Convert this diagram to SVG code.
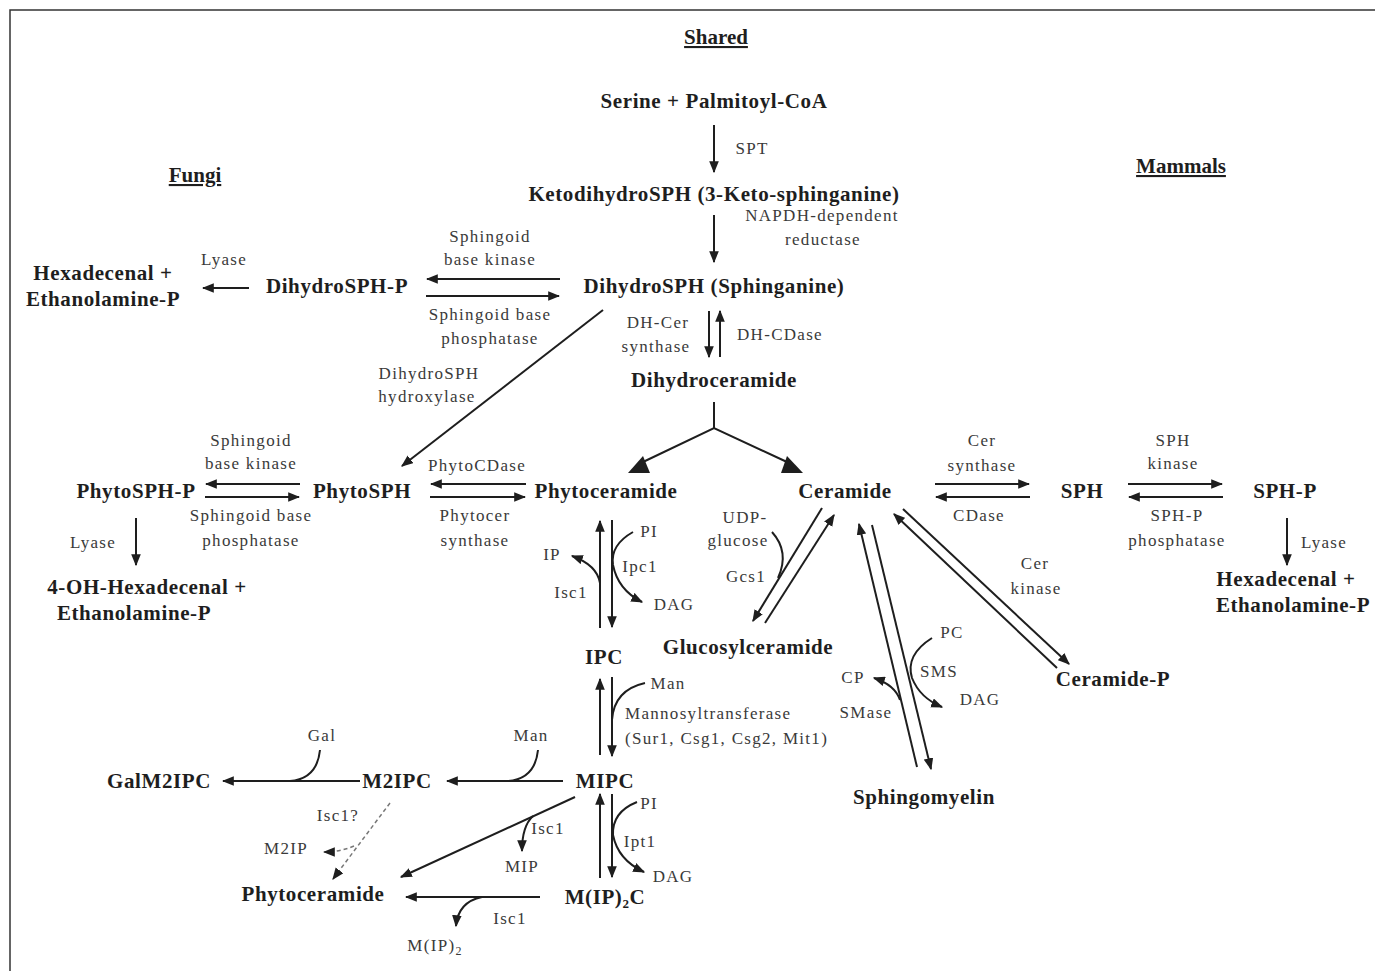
<svg xmlns="http://www.w3.org/2000/svg" width="1375" height="971" viewBox="0 0 1375 971">
<defs>
<style>
.n{font-family:"Liberation Serif","Times New Roman",serif;font-weight:bold;font-size:21px;letter-spacing:0.6px;fill:#1e1e1e;text-anchor:middle}
.l{font-family:"Liberation Serif","Times New Roman",serif;font-size:17px;letter-spacing:1.3px;fill:#3a3a3a;text-anchor:middle}
.h{font-family:"Liberation Serif","Times New Roman",serif;font-weight:bold;font-size:21px;fill:#1e1e1e;text-anchor:middle;text-decoration:underline}
.c{fill:none;stroke:#1e1e1e;stroke-width:2}
.a{marker-end:url(#ah)}
.d{fill:none;stroke:#777;stroke-width:1.5;stroke-dasharray:4 3}
</style>
<marker id="ah" viewBox="0 0 10 8" refX="9" refY="4" markerWidth="12" markerHeight="10" orient="auto" markerUnits="userSpaceOnUse"><path d="M0,0 L10,4 L0,8 z" fill="#1e1e1e"/></marker>
<marker id="ahg" viewBox="0 0 10 8" refX="9" refY="4" markerWidth="12" markerHeight="10" orient="auto" markerUnits="userSpaceOnUse"><path d="M0,0 L10,4 L0,8 z" fill="#1e1e1e"/></marker>
</defs>
<rect width="1375" height="971" fill="#fff"/>
<path d="M10,971 L10,10 L1375,10" fill="none" stroke="#333" stroke-width="1.5"/>

<g id="headers">
<text class="h" x="716" y="44">Shared</text>
<text class="h" x="195" y="182">Fungi</text>
<text class="h" x="1181" y="173">Mammals</text>
</g>

<g id="connectors">
<line class="c a" x1="714" y1="125" x2="714" y2="172"/>
<line class="c a" x1="714" y1="215" x2="714" y2="262"/>
<line class="c a" x1="560" y1="279" x2="427" y2="279"/>
<line class="c a" x1="426" y1="296" x2="559" y2="296"/>
<line class="c a" x1="249" y1="288" x2="203" y2="288"/>
<line class="c a" x1="603" y1="310" x2="402" y2="466"/>
<line class="c a" x1="709" y1="311" x2="709" y2="357"/>
<line class="c a" x1="720" y1="357" x2="720" y2="311"/>
<polyline class="c" points="643,462 714,428 787,462"/>
<line class="c" x1="714" y1="402" x2="714" y2="428"/>
<polygon points="628,473 650,473 643,456" fill="#1e1e1e"/>
<polygon points="781,473 803,473 787,456" fill="#1e1e1e"/>
<line class="c a" x1="300" y1="484" x2="206" y2="484"/>
<line class="c a" x1="205" y1="497" x2="299" y2="497"/>
<line class="c a" x1="136" y1="518" x2="136" y2="565"/>
<line class="c a" x1="526" y1="484" x2="431" y2="484"/>
<line class="c a" x1="430" y1="497" x2="525" y2="497"/>
<line class="c a" x1="935" y1="484" x2="1029" y2="484"/>
<line class="c a" x1="1030" y1="497" x2="936" y2="497"/>
<line class="c a" x1="1128" y1="484" x2="1222" y2="484"/>
<line class="c a" x1="1223" y1="497" x2="1129" y2="497"/>
<line class="c a" x1="1287" y1="518" x2="1287" y2="565"/>
<line class="c a" x1="600" y1="628" x2="600" y2="521"/>
<line class="c a" x1="612" y1="520" x2="612" y2="627"/>
<path class="c a" d="M633,532 Q610,545 613,565 Q618,590 642,602"/>
<path class="c a" d="M600,583 Q597,565 572,556"/>
<line class="c a" x1="822" y1="508" x2="753" y2="621"/>
<line class="c a" x1="765" y1="623" x2="834" y2="515"/>
<path class="c" d="M772,532 Q790,552 778,578"/>
<line class="c a" x1="917" y1="767" x2="859" y2="524"/>
<line class="c a" x1="872" y1="525" x2="931" y2="769"/>
<path class="c a" d="M932,638 Q905,655 912,678 Q920,698 942,707"/>
<path class="c a" d="M900,700 Q895,685 874,678"/>
<line class="c a" x1="1057" y1="668" x2="894" y2="514"/>
<line class="c a" x1="903" y1="509" x2="1069" y2="664"/>
<line class="c a" x1="600" y1="755" x2="600" y2="679"/>
<line class="c a" x1="612" y1="677" x2="612" y2="756"/>
<path class="c" d="M645,683 Q614,690 612,720"/>
<line class="c a" x1="563" y1="781" x2="447" y2="781"/>
<path class="c" d="M538,750 Q535,779 508,781"/>
<line class="c a" x1="360" y1="781" x2="223" y2="781"/>
<path class="c" d="M320,750 Q317,779 290,781"/>
<path class="d" d="M390,803 L333,879" marker-end="url(#ahg)"/>
<path class="d" d="M354,846 Q340,852 324,852" marker-end="url(#ahg)"/>
<line class="c a" x1="575" y1="797" x2="401" y2="877"/>
<path class="c a" d="M533,816 Q522,826 522,851"/>
<line class="c a" x1="600" y1="878" x2="600" y2="794"/>
<line class="c a" x1="612" y1="794" x2="612" y2="877"/>
<path class="c a" d="M637,802 Q612,812 613,835 Q618,860 644,872"/>
<line class="c a" x1="540" y1="897" x2="406" y2="897"/>
<path class="c a" d="M482,897 Q458,902 456,926"/>
</g>

<g id="n-serine"><text class="n" x="714" y="108">Serine + Palmitoyl-CoA</text></g>
<g id="l-spt"><text class="l" x="752" y="154">SPT</text></g>
<g id="n-keto"><text class="n" x="714" y="201">KetodihydroSPH (3-Keto-sphinganine)</text></g>
<g id="l-napdh"><text class="l" x="822" y="221">NAPDH-dependent</text><text class="l" x="823" y="245">reductase</text></g>
<g id="n-dihydrosph"><text class="n" x="714" y="293">DihydroSPH (Sphinganine)</text></g>
<g id="n-dihydrosphp"><text class="n" x="337" y="293">DihydroSPH-P</text></g>
<g id="n-hexa1"><text class="n" x="103" y="280">Hexadecenal +</text><text class="n" x="103" y="306">Ethanolamine-P</text></g>
<g id="l-lyase1"><text class="l" x="224" y="265">Lyase</text></g>
<g id="l-sbk1"><text class="l" x="490" y="242">Sphingoid</text><text class="l" x="490" y="265">base kinase</text></g>
<g id="l-sbp1"><text class="l" x="490" y="320">Sphingoid base</text><text class="l" x="490" y="344">phosphatase</text></g>
<g id="l-hydrox"><text class="l" x="429" y="379">DihydroSPH</text><text class="l" x="427" y="402">hydroxylase</text></g>
<g id="l-dhcer"><text class="l" x="658" y="328">DH-Cer</text><text class="l" x="656" y="352">synthase</text></g>
<g id="l-dhcdase"><text class="l" x="780" y="340">DH-CDase</text></g>
<g id="n-dihydrocer"><text class="n" x="714" y="387">Dihydroceramide</text></g>

<g id="n-phytosphp"><text class="n" x="136" y="498">PhytoSPH-P</text></g>
<g id="n-phytosph"><text class="n" x="362" y="498">PhytoSPH</text></g>
<g id="n-phytocer"><text class="n" x="606" y="498">Phytoceramide</text></g>
<g id="n-ceramide"><text class="n" x="845" y="498">Ceramide</text></g>
<g id="n-sph"><text class="n" x="1082" y="498">SPH</text></g>
<g id="n-sphp"><text class="n" x="1285" y="498">SPH-P</text></g>
<g id="l-sbk2"><text class="l" x="251" y="446">Sphingoid</text><text class="l" x="251" y="469">base kinase</text></g>
<g id="l-sbp2"><text class="l" x="251" y="521">Sphingoid base</text><text class="l" x="251" y="546">phosphatase</text></g>
<g id="l-lyase2"><text class="l" x="93" y="548">Lyase</text></g>
<g id="n-oh"><text class="n" x="147" y="594">4-OH-Hexadecenal +</text><text class="n" x="134" y="620">Ethanolamine-P</text></g>
<g id="l-phytocdase"><text class="l" x="477" y="471">PhytoCDase</text></g>
<g id="l-phytocer"><text class="l" x="475" y="521">Phytocer</text><text class="l" x="475" y="546">synthase</text></g>
<g id="l-cersyn"><text class="l" x="982" y="446">Cer</text><text class="l" x="982" y="471">synthase</text></g>
<g id="l-cdase"><text class="l" x="979" y="521">CDase</text></g>
<g id="l-sphk"><text class="l" x="1173" y="446">SPH</text><text class="l" x="1173" y="469">kinase</text></g>
<g id="l-sphpp"><text class="l" x="1177" y="521">SPH-P</text><text class="l" x="1177" y="546">phosphatase</text></g>
<g id="l-lyase3"><text class="l" x="1324" y="548">Lyase</text></g>
<g id="n-hexa2"><text class="n" x="1286" y="586">Hexadecenal +</text><text class="n" x="1293" y="612">Ethanolamine-P</text></g>

<g id="l-ipc1"><text class="l" x="649" y="537">PI</text><text class="l" x="640" y="572">Ipc1</text><text class="l" x="674" y="610">DAG</text><text class="l" x="552" y="560">IP</text><text class="l" x="571" y="598">Isc1</text></g>
<g id="l-gcs1"><text class="l" x="745" y="523">UDP-</text><text class="l" x="738" y="546">glucose</text><text class="l" x="746" y="582">Gcs1</text></g>
<g id="n-ipc"><text class="n" x="604" y="664">IPC</text></g>
<g id="n-gluco"><text class="n" x="748" y="654">Glucosylceramide</text></g>
<g id="l-cerk"><text class="l" x="1035" y="569">Cer</text><text class="l" x="1036" y="594">kinase</text></g>
<g id="n-cerp"><text class="n" x="1113" y="686">Ceramide-P</text></g>
<g id="l-sms"><text class="l" x="952" y="638">PC</text><text class="l" x="939" y="677">SMS</text><text class="l" x="980" y="705">DAG</text><text class="l" x="853" y="683">CP</text><text class="l" x="866" y="718">SMase</text></g>
<g id="n-sm"><text class="n" x="924" y="804">Sphingomyelin</text></g>

<g id="l-mann"><text class="l" x="668" y="689">Man</text><text class="l" x="625" y="719" style="text-anchor:start">Mannosyltransferase</text><text class="l" x="625" y="744" style="text-anchor:start">(Sur1, Csg1, Csg2, Mit1)</text></g>
<g id="n-mipc"><text class="n" x="605" y="788">MIPC</text></g>
<g id="l-man2"><text class="l" x="531" y="741">Man</text></g>
<g id="n-m2ipc"><text class="n" x="397" y="788">M2IPC</text></g>
<g id="l-gal"><text class="l" x="322" y="741">Gal</text></g>
<g id="n-galm2ipc"><text class="n" x="159" y="788">GalM2IPC</text></g>
<g id="l-isc1q"><text class="l" x="338" y="821">Isc1?</text><text class="l" x="286" y="854">M2IP</text></g>
<g id="l-isc1b"><text class="l" x="548" y="834">Isc1</text><text class="l" x="522" y="872">MIP</text></g>
<g id="l-ipt1"><text class="l" x="649" y="809">PI</text><text class="l" x="640" y="847">Ipt1</text><text class="l" x="673" y="882">DAG</text></g>
<g id="n-mip2c"><text class="n" x="605" y="904">M(IP)<tspan font-size="13" dy="4">2</tspan><tspan dy="-4">C</tspan></text></g>
<g id="n-phytocer2"><text class="n" x="313" y="901">Phytoceramide</text></g>
<g id="l-isc1c"><text class="l" x="510" y="924">Isc1</text><text class="l" x="435" y="951">M(IP)<tspan font-size="12" dy="4">2</tspan></text></g>
</svg>
